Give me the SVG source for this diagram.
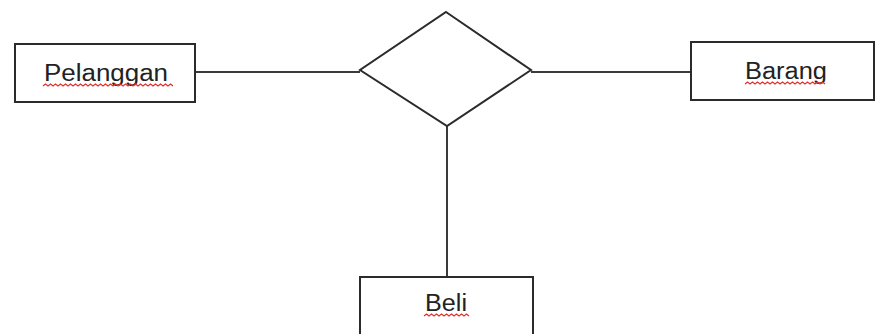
<svg xmlns="http://www.w3.org/2000/svg" width="875" height="334" viewBox="0 0 875 334">
<style>
.box{fill:#fff;stroke:#2b2b2b;stroke-width:2}
.edge{fill:none;stroke:#3a3a3a;stroke-width:2}
.lbl{font-family:"Liberation Sans","DejaVu Sans",sans-serif;font-size:23px;fill:#222;text-anchor:middle}
.sq{fill:none;stroke:#e03030;stroke-width:1.2}
</style>
<rect width="875" height="334" fill="#fff"/>
<g id="connectors">
<line class="edge" x1="195" y1="72" x2="360" y2="72"/>
<line class="edge" x1="531" y1="72" x2="691" y2="72"/>
<line class="edge" x1="447" y1="126" x2="447" y2="277"/>
</g>
<g id="relasi">
<polygon class="box" points="446,12 531,70 447,126 360,70"/>
</g>
<g id="pelanggan">
<rect class="box" x="15" y="44" width="180" height="58"/>
<text class="lbl" x="106" y="81" textLength="124" lengthAdjust="spacingAndGlyphs">Pelanggan</text>
<path class="sq" d="M43 86 l2.5 -2 l2.5 2 l2.5 -2 l2.5 2 l2.5 -2 l2.5 2 l2.5 -2 l2.5 2 l2.5 -2 l2.5 2 l2.5 -2 l2.5 2 l2.5 -2 l2.5 2 l2.5 -2 l2.5 2 l2.5 -2 l2.5 2 l2.5 -2 l2.5 2 l2.5 -2 l2.5 2 l2.5 -2 l2.5 2 l2.5 -2 l2.5 2 l2.5 -2 l2.5 2 l2.5 -2 l2.5 2 l2.5 -2 l2.5 2 l2.5 -2 l2.5 2 l2.5 -2 l2.5 2 l2.5 -2 l2.5 2 l2.5 -2 l2.5 2 l2.5 -2 l2.5 2 l2.5 -2 l2.5 2 l2.5 -2 l2.5 2 l2.5 -2 l2.5 2 l2.5 -2 l2.5 2 l2.5 -2 l2.5 2"/>
</g>
<g id="barang">
<rect class="box" x="691" y="42" width="183" height="58"/>
<text class="lbl" x="786" y="79" textLength="82" lengthAdjust="spacingAndGlyphs">Barang</text>
<path class="sq" d="M745 84 l2.5 -2 l2.5 2 l2.5 -2 l2.5 2 l2.5 -2 l2.5 2 l2.5 -2 l2.5 2 l2.5 -2 l2.5 2 l2.5 -2 l2.5 2 l2.5 -2 l2.5 2 l2.5 -2 l2.5 2 l2.5 -2 l2.5 2 l2.5 -2 l2.5 2 l2.5 -2 l2.5 2 l2.5 -2 l2.5 2 l2.5 -2 l2.5 2 l2.5 -2 l2.5 2 l2.5 -2 l2.5 2 l2.5 -2 l2.5 2"/>
</g>
<g id="beli">
<rect class="box" x="360" y="277" width="173" height="60"/>
<text class="lbl" x="446" y="311" textLength="42" lengthAdjust="spacingAndGlyphs">Beli</text>
<path class="sq" d="M424 316 l2.5 -2 l2.5 2 l2.5 -2 l2.5 2 l2.5 -2 l2.5 2 l2.5 -2 l2.5 2 l2.5 -2 l2.5 2 l2.5 -2 l2.5 2 l2.5 -2 l2.5 2 l2.5 -2 l2.5 2 l2.5 -2 l2.5 2"/>
</g>
</svg>
